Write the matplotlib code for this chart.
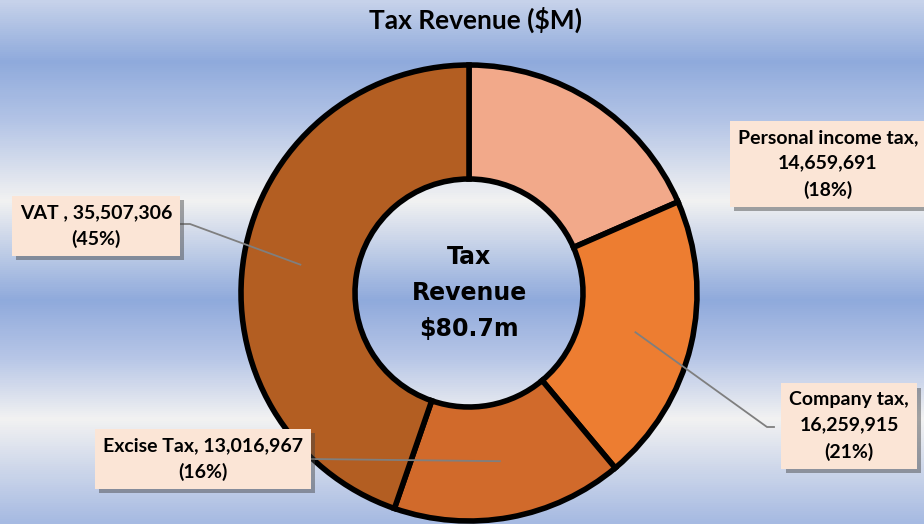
import numpy as np
import matplotlib
matplotlib.use("Agg")
from matplotlib import pyplot as plt
from matplotlib import patheffects as pe
from matplotlib.colors import LinearSegmentedColormap
from matplotlib.lines import Line2D

# data
categories = ["Personal income tax", "Company tax", "Excise Tax", "VAT"]
values = [14659691, 16259915, 13016967, 35507306]
pct_labels = ["18%", "21%", "16%", "45%"]
colors = ["#F2A98A", "#ED7D31", "#D16A2B", "#B35E22"]
center_text = "Tax\nRevenue\n$80.7m"
title = "Tax Revenue ($M)"

W, H = 924, 524

def px(x, y):
    # pixel from top-left -> figure fraction
    return x / W, 1 - y / H

fig = plt.figure(figsize=(W / 100, H / 100), dpi=100)

# background with horizontal bands
bg = fig.add_axes([0, 0, 1, 1], zorder=-5)
stops = [(0, "#C6D2EA"), (60, "#8FAADC"), (120, "#B3C4E6"), (200, "#F2F2F2"),
         (300, "#8FAADC"), (360, "#B8C7E7"), (420, "#F2F2F2"), (524, "#A6BAE2")]
cmap = LinearSegmentedColormap.from_list("bg", [(y / H, c) for y, c in stops])
grad = np.linspace(0, 1, 524).reshape(-1, 1)
bg.imshow(grad, cmap=cmap, aspect="auto", extent=[0, 1, 1, 0])
bg.set_xlim(0, 1)
bg.set_ylim(1, 0)
bg.axis("off")

# donut
cx, cy, R = 469, 293, 228
box = 230
ax = fig.add_axes([(cx - box) / W, (H - cy - box) / H, 2 * box / W, 2 * box / H])
r = R / box
wedges, _ = ax.pie(values, colors=colors, startangle=90, counterclock=False,
                   radius=r, wedgeprops=dict(width=r * 0.5, edgecolor="black",
                                             linewidth=4))
ax.set_xlim(-1, 1)
ax.set_ylim(-1, 1)
ax.axis("off")
for w in wedges:
    w.set_clip_on(False)

ax.text(0, 0, center_text, ha="center", va="center", fontsize=17,
        fontweight="bold", family="DejaVu Sans", linespacing=1.62)

fig.text(*px(475, 20), title, ha="center", va="center", fontsize=19,
         fontweight="bold", family="Lato")

# labels: box center (px from top-left), leader path start points
label_pos = [(828, 164), (849, 426), (203, 459), (96, 226)]
label_text = [
    "Personal income tax,\n14,659,691\n(18%)",
    "Company tax,\n16,259,915\n(21%)",
    "Excise Tax, 13,016,967\n(16%)",
    "VAT , 35,507,306\n(45%)",
]
leader_start = [None, [(774, 427), (767, 427)], [(310, 459)], [(178, 224), (190, 224)]]

total = float(sum(values))
ang = 90.0
for i, v in enumerate(values):
    span = 360.0 * v / total
    mid = np.deg2rad(ang - span / 2)
    ang -= span
    if leader_start[i] is not None:
        a = np.array([0.75 * r * np.cos(mid), 0.75 * r * np.sin(mid)])
        d = ax.transData.transform(a)
        ex, ey = fig.transFigure.inverted().transform(d)
        pts = [px(*p) for p in leader_start[i]] + [(ex, ey)]
        xs, ys = zip(*pts)
        fig.add_artist(Line2D(xs, ys, transform=fig.transFigure, color="#7F7F7F",
                              lw=1.3, zorder=3))
    t = fig.text(*px(*label_pos[i]), label_text[i], ha="center", va="center",
                 multialignment="center", fontsize=14, fontweight="bold",
                 family="Lato", linespacing=1.6, zorder=5,
                 bbox=dict(boxstyle="square,pad=0.4", fc="#FBE5D6", ec="none"))
    t.get_bbox_patch().set_path_effects([
        pe.SimplePatchShadow(offset=(3, -3), shadow_rgbFace="#404040", alpha=0.45),
        pe.Normal()])

fig.savefig("out.png", dpi=100)
